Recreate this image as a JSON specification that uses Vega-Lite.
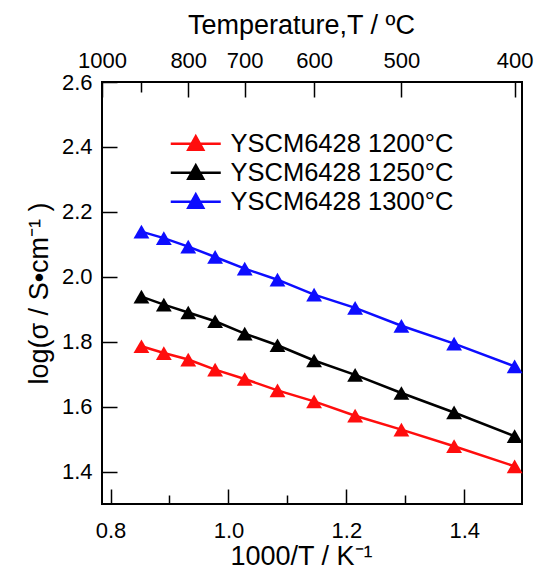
{
  "$schema": "https://vega.github.io/schema/vega-lite/v6.json",
  "autosize": {"type": "none"},
  "width": 420,
  "height": 422,
  "padding": {"left": 102, "top": 82, "right": 14, "bottom": 69},
  "background": "white",
  "config": {
    "view": {"stroke": "black", "strokeWidth": 2},
    "font": "Liberation Sans",
    "axis": {
      "grid": false, "domain": false, "tickColor": "black", "tickWidth": 1.5,
      "labelColor": "black", "titleColor": "black", "labelFontSize": 22, "titleFontSize": 27,
      "titleFontWeight": "normal", "labelFont": "Liberation Sans", "titleFont": "Liberation Sans",
      "labelFlush": false, "labelOverlap": false
    },
    "legend": {
      "orient": "none", "legendX": 81, "legendY": 49, "padding": 0,
      "symbolType": "M-2.5,0L2.5,0M0,-0.75L-0.75,0.6L0.75,0.6Z", "symbolSize": 400, "symbolStrokeWidth": 2.5,
      "labelFontSize": 25.5, "labelFont": "Liberation Sans", "labelColor": "black", "rowPadding": 2, "labelOffset": 22, "labelLimit": 0
    }
  },
  "data": {"values": [
    {"series": "YSCM6428 1200°C", "x": 0.8524, "y": 1.786},
    {"series": "YSCM6428 1200°C", "x": 0.8904, "y": 1.765},
    {"series": "YSCM6428 1200°C", "x": 0.9318, "y": 1.745},
    {"series": "YSCM6428 1200°C", "x": 0.9774, "y": 1.714},
    {"series": "YSCM6428 1200°C", "x": 1.0276, "y": 1.685},
    {"series": "YSCM6428 1200°C", "x": 1.0832, "y": 1.650},
    {"series": "YSCM6428 1200°C", "x": 1.1453, "y": 1.616},
    {"series": "YSCM6428 1200°C", "x": 1.2149, "y": 1.572},
    {"series": "YSCM6428 1200°C", "x": 1.2934, "y": 1.529},
    {"series": "YSCM6428 1200°C", "x": 1.3828, "y": 1.478},
    {"series": "YSCM6428 1200°C", "x": 1.4855, "y": 1.416},
    {"series": "YSCM6428 1250°C", "x": 0.8524, "y": 1.939},
    {"series": "YSCM6428 1250°C", "x": 0.8904, "y": 1.914},
    {"series": "YSCM6428 1250°C", "x": 0.9318, "y": 1.890},
    {"series": "YSCM6428 1250°C", "x": 0.9774, "y": 1.863},
    {"series": "YSCM6428 1250°C", "x": 1.0276, "y": 1.825},
    {"series": "YSCM6428 1250°C", "x": 1.0832, "y": 1.789},
    {"series": "YSCM6428 1250°C", "x": 1.1453, "y": 1.742},
    {"series": "YSCM6428 1250°C", "x": 1.2149, "y": 1.698},
    {"series": "YSCM6428 1250°C", "x": 1.2934, "y": 1.642},
    {"series": "YSCM6428 1250°C", "x": 1.3828, "y": 1.582},
    {"series": "YSCM6428 1250°C", "x": 1.4855, "y": 1.509},
    {"series": "YSCM6428 1300°C", "x": 0.8524, "y": 2.139},
    {"series": "YSCM6428 1300°C", "x": 0.8904, "y": 2.119},
    {"series": "YSCM6428 1300°C", "x": 0.9318, "y": 2.093},
    {"series": "YSCM6428 1300°C", "x": 0.9774, "y": 2.061},
    {"series": "YSCM6428 1300°C", "x": 1.0276, "y": 2.025},
    {"series": "YSCM6428 1300°C", "x": 1.0832, "y": 1.991},
    {"series": "YSCM6428 1300°C", "x": 1.1453, "y": 1.945},
    {"series": "YSCM6428 1300°C", "x": 1.2149, "y": 1.904},
    {"series": "YSCM6428 1300°C", "x": 1.2934, "y": 1.849},
    {"series": "YSCM6428 1300°C", "x": 1.3828, "y": 1.794},
    {"series": "YSCM6428 1300°C", "x": 1.4855, "y": 1.724}
  ]},
  "resolve": {"axis": {"x": "independent"}},
  "layer": [
    {
      "mark": {"type": "line", "strokeWidth": 2.5},
      "encoding": {
        "x": {"field": "x", "type": "quantitative", "scale": {"domain": [0.7855, 1.498], "nice": false, "zero": false},
              "axis": {"orient": "bottom", "values": [0.8, 1.0, 1.2, 1.4], "format": ".1f", "tickSize": -15, "labelPadding": 31, "title": "1000/T / K⁻¹", "titlePadding": 2, "titleX": 199}},
        "y": {"field": "y", "type": "quantitative", "scale": {"domain": [1.3, 2.6], "nice": false, "zero": false},
              "axis": {"orient": "left", "values": [1.4, 1.6, 1.8, 2.0, 2.2, 2.4, 2.6], "format": ".1f", "tickSize": -15, "labelPadding": 25, "title": "log(σ / S•cm⁻¹ )", "titlePadding": 8}},
        "color": {"field": "series", "type": "nominal", "scale": {"domain": ["YSCM6428 1200°C", "YSCM6428 1250°C", "YSCM6428 1300°C"], "range": ["#ff0d0d", "#000000", "#0d0dff"]},
                  "legend": {"title": null, "encode": {"symbols": {"update": {"stroke": {"scale": "color", "field": "value"}, "fill": {"scale": "color", "field": "value"}, "opacity": {"value": 1}, "strokeWidth": {"value": 2.5}}}}}}
      }
    },
    {
      "mark": {"type": "point", "shape": "triangle-up", "filled": true, "size": 250, "opacity": 1},
      "encoding": {
        "x": {"field": "x", "type": "quantitative",
              "axis": {"orient": "top", "values": [0.7855, 0.9318, 1.0276, 1.1453, 1.2934, 1.4855], "tickSize": -15, "labelPadding": 25,
                       "labelExpr": "datum.value < 0.8 ? '1000' : datum.value < 0.95 ? '800' : datum.value < 1.1 ? '700' : datum.value < 1.2 ? '600' : datum.value < 1.4 ? '500' : '400'",
                       "title": "Temperature,T / ºC", "titlePadding": 10, "titleX": 199}},
        "y": {"field": "y", "type": "quantitative",
              "axis": {"orient": "left", "values": [1.4, 1.6, 1.8, 2.0, 2.2, 2.4, 2.6], "format": ".1f", "tickSize": -15, "labelPadding": 25, "title": "log(σ / S•cm⁻¹ )", "titlePadding": 8}},
        "color": {"field": "series", "type": "nominal",
                  "legend": {"title": null, "encode": {"symbols": {"update": {"stroke": {"scale": "color", "field": "value"}, "fill": {"scale": "color", "field": "value"}, "opacity": {"value": 1}, "strokeWidth": {"value": 2.5}}}}}}
      }
    },
    {
      "mark": {"type": "point", "opacity": 0},
      "encoding": {
        "x": {"field": "x", "type": "quantitative",
              "axis": {"orient": "bottom", "values": [0.9, 1.1, 1.3], "tickSize": -9, "labels": false, "title": null}},
        "y": {"field": "y", "type": "quantitative",
              "axis": {"orient": "left", "values": [1.4, 1.6, 1.8, 2.0, 2.2, 2.4, 2.6], "format": ".1f", "tickSize": -15, "labelPadding": 25, "title": "log(σ / S•cm⁻¹ )", "titlePadding": 8}}
      }
    },
    {
      "mark": {"type": "point", "opacity": 0},
      "encoding": {
        "x": {"field": "x", "type": "quantitative",
              "axis": {"orient": "top", "values": [0.8524], "tickSize": -10, "labels": false, "title": null}},
        "y": {"field": "y", "type": "quantitative",
              "axis": {"orient": "left", "values": [1.4, 1.6, 1.8, 2.0, 2.2, 2.4, 2.6], "format": ".1f", "tickSize": -15, "labelPadding": 25, "title": "log(σ / S•cm⁻¹ )", "titlePadding": 8}}
      }
    }
  ]
}
